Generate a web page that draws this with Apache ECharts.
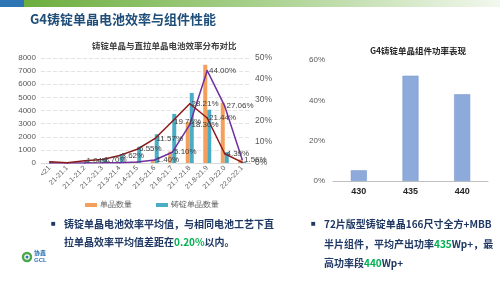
<!DOCTYPE html>
<html><head><meta charset="utf-8">
<script src="https://cdn.jsdelivr.net/npm/echarts@6/dist/echarts.min.js"></script>
<style>html,body{margin:0;padding:0;background:#fff}#c{width:500px;height:281px}</style>
</head><body><div id="c"></div>
<script>
const categories = ['<21','21-21.1','21.1-21.2','21.2-21.3','21.3-21.4','21.4-21.5','21.5-21.6','21.6-21.7','21.7-21.8','21.8-21.9','21.9-22.0','22.0-22.1'];
const czCount = [5, 5, 8, 10, 25, 90, 240, 870, 3110, 7480, 4600, 265];
const castCount = [100, 30, 200, 320, 690, 1240, 2190, 3740, 5340, 4060, 830, 90];
const czPct = [0.0, 0.0, 0.05, 0.06, 0.15, 0.52, 1.40, 5.10, 18.30, 44.00, 27.06, 1.56];
const castPct = [0.55, 0.15, 1.04, 1.70, 3.62, 6.55, 11.57, 19.76, 28.21, 21.44, 4.39, 0.3];
const leftTicks = [0, 8000, 1000];
const rightTicks = [0, 50, 10];
const powerCats = ['430','435','440'];
const powerPct = [5.3, 52.2, 43.0];

const chart = echarts.init(document.getElementById('c'), null, {renderer:'canvas'});
const lbl = (p) => { const v = Array.isArray(p.value) ? p.value[1] : p.value; return (+v >= 1) ? (+v).toFixed(2) + '%' : ''; };
chart.setOption({
  animation:false,
  backgroundColor:'#fff',
  legend:{data:['单晶数量','铸锭单晶数量'], left:80, top:196, itemWidth:12, itemHeight:4, itemGap:24, icon:'rect',
    textStyle:{fontSize:8, color:'#595959', padding:[0,0,0,-2]}},
  grid:[
    {left:41, right:249, top:58, bottom:118},
    {left:333, right:12, top:60, bottom:100}
  ],
  xAxis:[
    {type:'category', gridIndex:0, data:categories, axisTick:{show:false},
     axisLine:{lineStyle:{color:'#d9d9d9'}},
     axisLabel:{rotate:45, interval:0, fontSize:7, color:'#595959', margin:4}},
    {type:'category', gridIndex:1, data:powerCats, axisTick:{show:false},
     axisLine:{lineStyle:{color:'#bfbfbf'}},
     axisLabel:{fontSize:9, fontWeight:'bold', color:'#262626', margin:6}}
  ],
  yAxis:[
    {type:'value', gridIndex:0, min:leftTicks[0], max:leftTicks[1], interval:leftTicks[2],
     axisLabel:{fontSize:8, color:'#595959', margin:5, formatter:(v)=>String(v)},
     splitLine:{lineStyle:{color:'#e3e3e3', type:'dashed'}}, axisLine:{show:false}, axisTick:{show:false}},
    {type:'value', gridIndex:0, min:rightTicks[0], max:rightTicks[1], interval:rightTicks[2], position:'right',
     axisLabel:{fontSize:8.5, color:'#595959', margin:4, formatter:'{value}%'},
     splitLine:{show:false}, axisLine:{show:false}, axisTick:{show:false}},
    {type:'value', gridIndex:1, min:0, max:60, interval:20,
     axisLabel:{fontSize:8, color:'#595959', margin:8, formatter:'{value}%'},
     splitLine:{show:false}, axisLine:{show:false}, axisTick:{show:false}}
  ],
  series:[
    {name:'单晶数量', type:'bar', xAxisIndex:0, yAxisIndex:0, data:czCount, barWidth:4, barGap:'0%',
     itemStyle:{color:'#F4A05C'}},
    {name:'铸锭单晶数量', type:'bar', xAxisIndex:0, yAxisIndex:0, data:castCount, barWidth:4, barGap:'0%',
     itemStyle:{color:'#4BACC6'}},
    {name:'单晶占比', type:'line', xAxisIndex:0, yAxisIndex:1, data:czPct, symbol:'circle', symbolSize:1.5, showSymbol:true,
     itemStyle:{color:'#7030A0'},
     lineStyle:{color:'#7030A0', width:1.5},
     label:{show:true, position:'right', distance:1, fontSize:8, color:'#404040', formatter:lbl},
     labelLayout:{hideOverlap:false}},
    {name:'铸锭单晶占比', type:'line', xAxisIndex:0, yAxisIndex:1, data:castPct, symbol:'circle', symbolSize:1.5, showSymbol:true,
     itemStyle:{color:'#8B1A1A'},
     lineStyle:{color:'#8B1A1A', width:1.5},
     label:{show:true, position:'right', distance:1, fontSize:8, color:'#404040', formatter:lbl},
     labelLayout:{hideOverlap:false}},
    {name:'功率', type:'bar', xAxisIndex:1, yAxisIndex:2, data:powerPct, barWidth:16,
     itemStyle:{color:'#8EAADB', borderColor:'#7092C9', borderWidth:0.5}}
  ],
  graphic:[
    {type:'rect', shape:{x:0,y:0,width:24,height:7}, style:{fill:'#2E75B6'}},
    {type:'rect', shape:{x:24,y:0,width:476,height:7}, style:{fill:new echarts.graphic.LinearGradient(0,0,1,0,[{offset:0,color:'#6DAE3E'},{offset:0.5,color:'#A9D18E'},{offset:1,color:'#F2F8EE'}])}},
    {type:'text', left:30, top:13, style:{text:'G4铸锭单晶电池效率与组件性能', font:'bold 13px "Noto Sans CJK SC"', fill:'#1F4E79'}},
    {type:'text', left:92, top:42, style:{text:'铸锭单晶与直拉单晶电池效率分布对比', font:'bold 8.5px "Noto Sans CJK SC"', fill:'#404040'}},
    {type:'text', left:370, top:47, style:{text:'G4铸锭单晶组件功率表现', font:'bold 8.5px "Noto Sans CJK SC"', fill:'#262626'}},
    {type:'text', left:51, top:220, style:{text:'■', font:'8px sans-serif', fill:'#1F3864'}},
    {type:'text', left:64, top:219, style:{rich:{a:{font:'bold 10px "Noto Sans CJK SC"', fill:'#1F3864'}}, text:'{a|铸锭单晶电池效率平均值，与相同电池工艺下直}'}},
    {type:'text', left:64, top:237, style:{rich:{a:{font:'bold 10px "Noto Sans CJK SC"', fill:'#1F3864'}, g:{font:'bold 10px "Noto Sans CJK SC"', fill:'#00B050'}}, text:'{a|拉单晶效率平均值差距在}{g|0.20%}{a|以内。}'}},
    {type:'text', left:311, top:220, style:{text:'■', font:'8px sans-serif', fill:'#1F3864'}},
    {type:'text', left:324, top:219, style:{rich:{a:{font:'bold 10px "Noto Sans CJK SC"', fill:'#1F3864'}}, text:'{a|72片版型铸锭单晶166尺寸全方+MBB}'}},
    {type:'text', left:324, top:239, style:{rich:{a:{font:'bold 10px "Noto Sans CJK SC"', fill:'#1F3864'}, g:{font:'bold 10px "Noto Sans CJK SC"', fill:'#00B050'}}, text:'{a|半片组件，平均产出功率}{g|435}{a|Wp+，最}'}},
    {type:'text', left:324, top:258, style:{rich:{a:{font:'bold 10px "Noto Sans CJK SC"', fill:'#1F3864'}, g:{font:'bold 10px "Noto Sans CJK SC"', fill:'#00B050'}}, text:'{a|高功率段}{g|440}{a|Wp+}'}},
    {type:'circle', shape:{cx:27, cy:257, r:4}, style:{fill:'none', stroke:'#4CA64C', lineWidth:2.5}},
    {type:'circle', shape:{cx:27, cy:257, r:1.5}, style:{fill:'#2E75B6'}},
    {type:'text', left:34, top:250, style:{text:'协鑫', font:'bold 6px "Noto Sans CJK SC"', fill:'#2E75B6'}},
    {type:'text', left:34, top:257, style:{text:'GCL', font:'bold 6px sans-serif', fill:'#2E75B6'}}
  ]
});
</script></body></html>
